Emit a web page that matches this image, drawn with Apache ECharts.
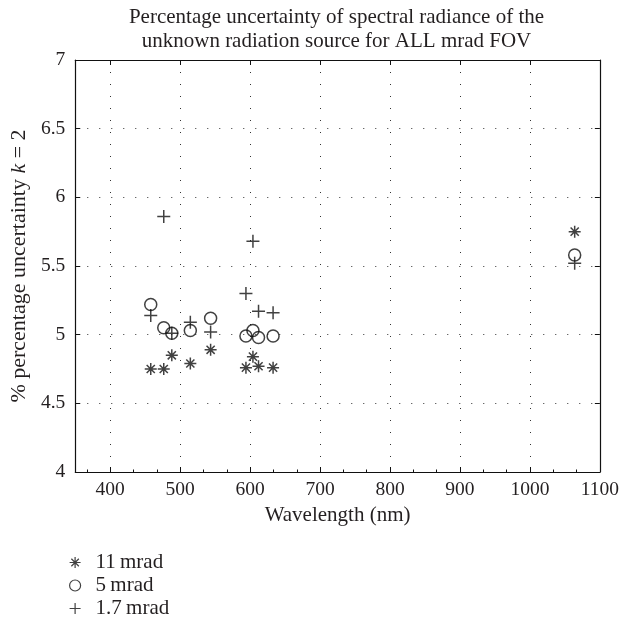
<!DOCTYPE html>
<html>
<head>
<meta charset="utf-8">
<script src="https://cdn.jsdelivr.net/npm/echarts@6/dist/echarts.min.js"></script>
<style>html,body{margin:0;padding:0;background:#fff}#c{width:622px;height:622px}</style>
</head>
<body>
<div id="c"></div>
<script>
// ---- data ----
var wavelengths = [457.9, 476.5, 488, 514.5, 543.5, 594, 604, 612, 632.8, 1064];
var mrad11 = [4.75, 4.75, 4.85, 4.79, 4.89, 4.76, 4.84, 4.77, 4.76, 5.75];
var mrad5  = [5.22, 5.05, 5.01, 5.03, 5.12, 4.99, 5.03, 4.98, 4.99, 5.58];
var mrad17 = [5.14, 5.86, 5.01, 5.09, 5.02, 5.30, 5.68, 5.17, 5.16, 5.52];
var seriesNames = ['11\u2009mrad', '5\u2009mrad', '1.7\u2009mrad'];
var xTicks = [400, 500, 600, 700, 800, 900, 1000, 1100];
var yTicks = [4, 4.5, 5, 5.5, 6, 6.5, 7];

var FONT = '"Liberation Serif", "DejaVu Serif", serif';
var TXT = '#231f20';
var INK = '#111111';
var PLUS = 'path://M0,5L10,5M5,0L5,10';
var STAR = 'path://M0,5L10,5M5,0L5,10M1.6,1.6L8.4,8.4M1.6,8.4L8.4,1.6';

function pairs(xs, ys) { return xs.map(function (x, i) { return [x, ys[i]]; }); }

var chart = echarts.init(document.getElementById('c'), null, {renderer: 'canvas'});

var baseX = {
  type: 'value', min: 350, max: 1100,
  axisLine: {show: true, onZero: false, lineStyle: {color: INK, width: 1.2}},
};
var baseY = {
  type: 'value', min: yTicks[0], max: yTicks[yTicks.length - 1], interval: 0.5,
  axisLine: {show: true, onZero: false, lineStyle: {color: INK, width: 1.2}},
};

var option = {
  backgroundColor: '#fff',
  animation: false,
  title: {
    text: 'Percentage uncertainty of spectral radiance of the\nunknown radiation source for ALL mrad FOV',
    left: 336.5, top: 6, textAlign: 'center', padding: 0,
    textStyle: {fontFamily: FONT, fontSize: 21, fontWeight: 'normal', color: TXT, lineHeight: 23.5}
  },
  grid: {left: 72, right: 21, top: 60, bottom: 150, containLabel: false},
  legend: {
    orient: 'vertical', left: 69, top: 552, height: 100, padding: 0,
    itemWidth: 11, itemHeight: 11, itemGap: 2,
    textStyle: {fontFamily: FONT, fontSize: 21, color: TXT, lineHeight: 13, padding: [0, 0, 0, 10]},
    data: [
      {name: seriesNames[0], icon: STAR, itemStyle: {color: 'transparent', borderColor: INK, borderWidth: 1.2}},
      {name: seriesNames[1], icon: 'circle', itemStyle: {color: 'transparent', borderColor: INK, borderWidth: 1.2}},
      {name: seriesNames[2], icon: PLUS, itemStyle: {color: 'transparent', borderColor: INK, borderWidth: 1.2}}
    ]
  },
  xAxis: [
    Object.assign({}, baseX, {
      position: 'bottom',
      name: 'Wavelength (nm)', nameLocation: 'middle', nameGap: 32,
      nameTextStyle: {fontFamily: FONT, fontSize: 21, color: TXT},
      axisTick: {show: true, inside: true, length: 5, customValues: xTicks, lineStyle: {color: INK}},
      minorTick: {show: true, splitNumber: 6, length: 2.5, lineStyle: {color: INK}},
      axisLabel: {customValues: xTicks, margin: 8, fontFamily: FONT, fontSize: 19.5, color: TXT,
        formatter: function (v) { return String(v); }},
      splitLine: {show: true, lineStyle: {color: '#333333', width: 1, type: [1, 11]}}
    }),
    Object.assign({}, baseX, {
      position: 'top',
      axisTick: {show: true, inside: true, length: 5, customValues: xTicks, lineStyle: {color: INK}},
      axisLabel: {show: false, customValues: xTicks},
      splitLine: {show: false}
    })
  ],
  yAxis: [
    Object.assign({}, baseY, {
      position: 'left',
      name: '% percentage uncertainty {i|k} = 2', nameLocation: 'middle', nameGap: 44,
      nameTextStyle: {fontFamily: FONT, fontSize: 22, color: TXT,
        rich: {i: {fontFamily: FONT, fontSize: 22, fontStyle: 'italic', color: TXT}}},
      axisTick: {show: true, inside: true, length: 5, lineStyle: {color: INK}},
      axisLabel: {margin: 10, fontFamily: FONT, fontSize: 19.5, color: TXT,
        formatter: function (v) { return String(v); }},
      splitLine: {show: true, lineStyle: {color: '#333333', width: 1, type: [1, 11]}}
    }),
    Object.assign({}, baseY, {
      position: 'right',
      axisTick: {show: true, inside: true, length: 5, lineStyle: {color: INK}},
      axisLabel: {show: false},
      splitLine: {show: false}
    })
  ],
  series: [
    {
      name: seriesNames[0], type: 'scatter', xAxisIndex: 0, yAxisIndex: 0,
      symbol: STAR, symbolSize: 12,
      itemStyle: {color: 'transparent', borderColor: INK, borderWidth: 1.5},
      data: pairs(wavelengths, mrad11)
    },
    {
      name: seriesNames[1], type: 'scatter', xAxisIndex: 0, yAxisIndex: 0,
      symbol: 'circle', symbolSize: 12,
      itemStyle: {color: 'transparent', borderColor: INK, borderWidth: 1.5},
      data: pairs(wavelengths, mrad5)
    },
    {
      name: seriesNames[2], type: 'scatter', xAxisIndex: 0, yAxisIndex: 0,
      symbol: PLUS, symbolSize: 13,
      itemStyle: {color: 'transparent', borderColor: INK, borderWidth: 1.5},
      data: pairs(wavelengths, mrad17)
    }
  ]
};
chart.setOption(option);
</script>
</body>
</html>
